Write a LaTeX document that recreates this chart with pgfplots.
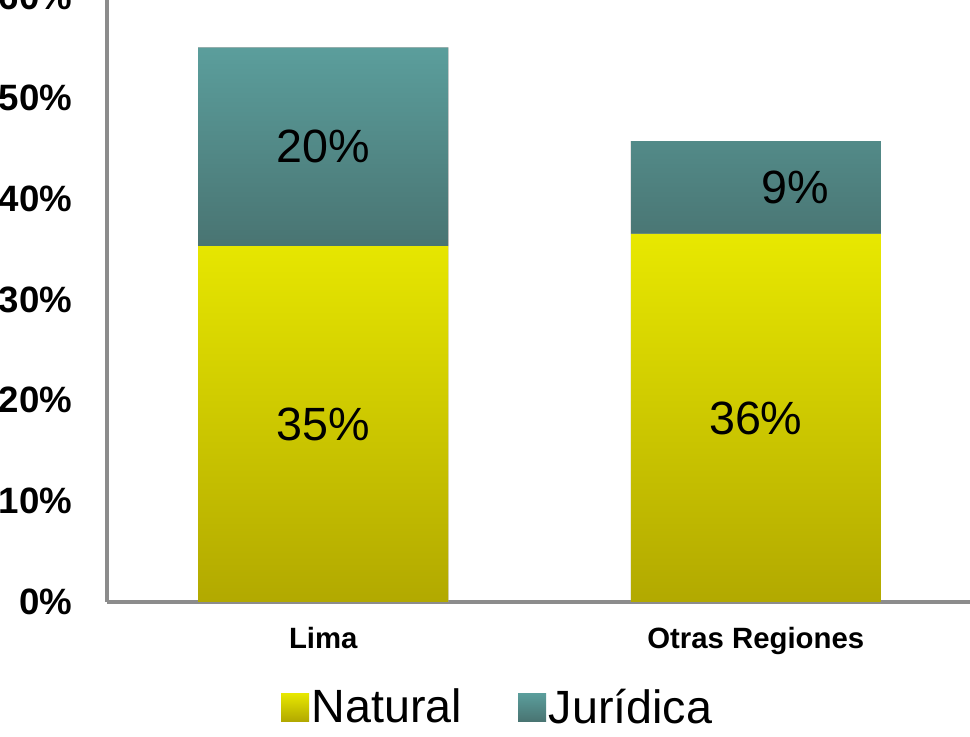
\documentclass[border=0pt]{standalone}
\usepackage{pgfplots}
\pgfplotsset{compat=1.18}
\usepackage{fontspec}
\setmainfont{Liberation Sans}
\definecolor{yelTop}{HTML}{E8E800}
\definecolor{yelBot}{HTML}{B2A900}
\definecolor{tealTop}{HTML}{5B9E9C}
\definecolor{tealBot}{HTML}{497472}
\definecolor{axgray}{HTML}{8C8C8C}
\begin{document}
\begin{tikzpicture}
\useasboundingbox (-80.25pt,-101.25pt) rectangle (647.25pt,451.5pt);
\clip (-80.25pt,-101.25pt) rectangle (647.25pt,451.5pt);
\begin{axis}[
  at={(0pt,0pt)}, anchor=south west,
  scale only axis,
  width=648.75pt, height=453.75pt,
  ybar stacked, bar width=187.5pt,
  xmin=-0.5, xmax=1.5, ymin=0, ymax=60,
  xtick={0,1}, xticklabels={Lima,Otras Regiones},
  ytick={0,10,20,30,40,50,60},
  yticklabel={\pgfmathprintnumber{\tick}\%},
  /pgf/number format/assume math mode=true,
  major tick length=0pt,
  axis x line*=bottom, axis y line*=left,
  axis line style={draw=axgray, line width=3pt, -},
  separate axis lines,
  yticklabel style={font=\fontsize{27.5}{30}\selectfont\bfseries, anchor=east, inner sep=0pt, xshift=-26pt},
  xticklabel style={font=\fontsize{22}{24}\selectfont\bfseries, anchor=north, inner sep=0pt, yshift=-19pt},
  legend style={at={(0.452,-0.1736)}, anchor=center, draw=none, fill=none,
    legend columns=2, font=\fontsize{35}{40}\selectfont,
    /tikz/every even column/.append style={column sep=40pt}},
  legend cell align=left,
  legend image code/.code={\path[#1, draw=none] (0pt,-10.5pt) rectangle (21pt,10.5pt);},
  clip=false,
]
\addplot+[draw=none, top color=yelTop, bottom color=yelBot] coordinates {(0,35.3) (1,36.5)};
\addplot+[draw=none, top color=tealTop, bottom color=tealBot] coordinates {(0,19.7) (1,9.2)};
\legend{Natural,Jurídica}
\coordinate (l1) at (axis cs:0,17.65);
\coordinate (l2) at (axis cs:0,45.15);
\coordinate (l3) at (axis cs:1,18.25);
\coordinate (l4) at (axis cs:1.092,41.1);
\end{axis}
\node[font=\fontsize{35}{40}\selectfont, text=black] at (l1) {35\%};
\node[font=\fontsize{35}{40}\selectfont, text=black] at (l2) {20\%};
\node[font=\fontsize{35}{40}\selectfont, text=black] at (l3) {36\%};
\node[font=\fontsize{35}{40}\selectfont, text=black] at (l4) {9\%};
\end{tikzpicture}
\end{document}
